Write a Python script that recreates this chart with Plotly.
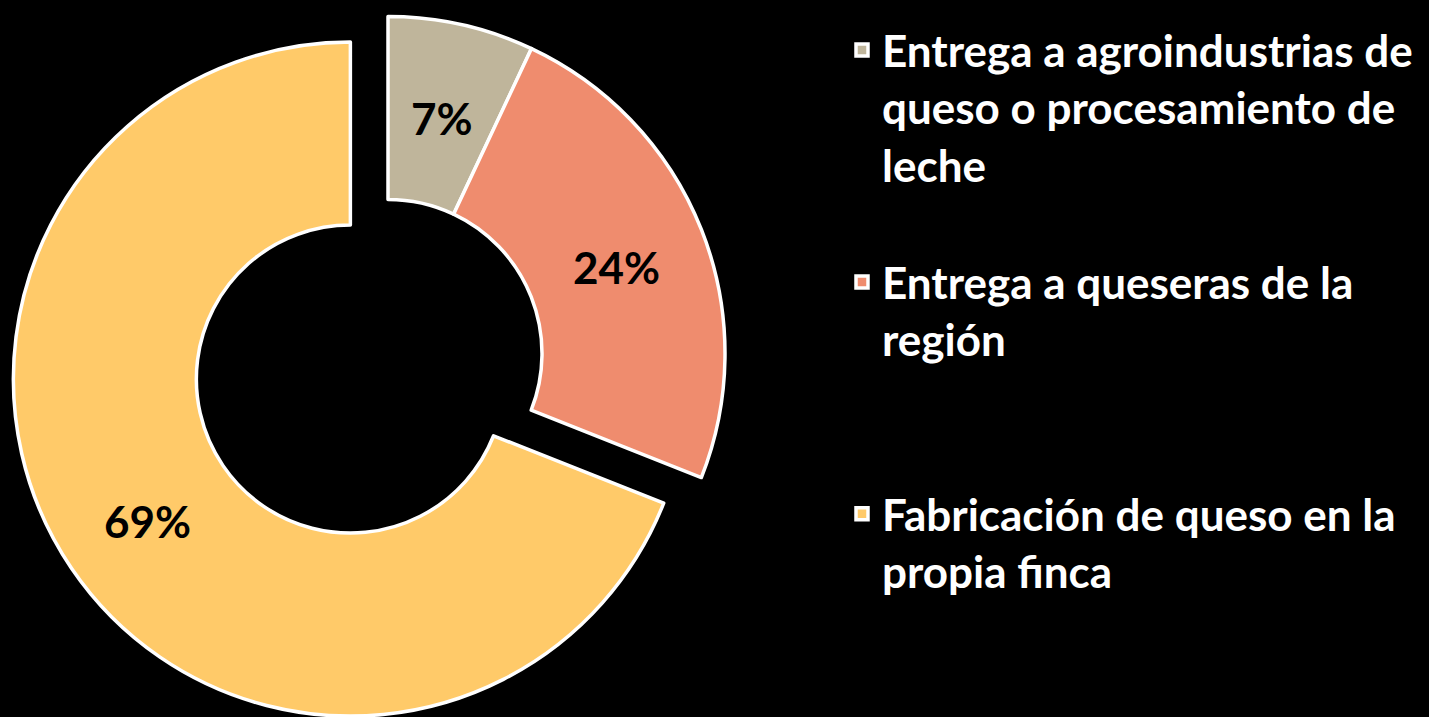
import math
import plotly.graph_objects as go

# ---- data ----
legend_labels = [
    "Entrega a agroindustrias de<br>queso o procesamiento de<br>leche<br> ",
    "Entrega a queseras de la<br>región<br> <br> ",
    "Fabricación de queso en la<br>propia finca",
]
values = [7, 24, 69]
colors = ["#BFB59B", "#EF8C6E", "#FFCA69"]
exploded = [False, False, True]

# ---- layout geometry (pixels) ----
W, H = 1429, 717
R = 337            # outer radius
HOLE = 0.457
CX, CY = 388, 353.5  # centre of the un-exploded ring
PULL = 0.135
LINE_W = 3.5
FONT = "Lato"


def domain(cx, cy, r):
    return dict(x=[(cx - r) / W, (cx + r) / W], y=[1 - (cy + r) / H, 1 - (cy - r) / H])


total = sum(values)


def mid_angle(i):
    start = sum(values[:i]) / total * 360
    return math.radians(start + values[i] / total * 180)


k = exploded.index(True)
mk = mid_angle(k)
dx = PULL * R * math.sin(mk)
dy = -PULL * R * math.cos(mk)

common = dict(
    labels=legend_labels,
    values=values,
    sort=False,
    direction="clockwise",
    rotation=0,
    hole=HOLE,
    textinfo="none",
    hoverinfo="skip",
)

fig = go.Figure()

# legend carrier (tiny, hidden beneath the exploded slice)
fig.add_trace(go.Pie(
    **common,
    marker=dict(colors=colors, line=dict(color="white", width=LINE_W)),
    domain=domain(150, 420, 0.5),
    showlegend=True,
))

# ring: non-exploded slices
fig.add_trace(go.Pie(
    **common,
    marker=dict(
        colors=[("rgba(0,0,0,0)" if e else c) for c, e in zip(colors, exploded)],
        line=dict(color="white", width=[0 if e else LINE_W for e in exploded]),
    ),
    domain=domain(CX, CY, R),
    showlegend=False,
))

# ring: exploded slice
fig.add_trace(go.Pie(
    **common,
    marker=dict(
        colors=[(c if e else "rgba(0,0,0,0)") for c, e in zip(colors, exploded)],
        line=dict(color="white", width=[LINE_W if e else 0 for e in exploded]),
    ),
    domain=domain(CX + dx, CY + dy, R),
    showlegend=False,
))

# percentage labels at the middle of each ring segment
r_mid = R * (1 + HOLE) / 2
for i, v in enumerate(values):
    a = mid_angle(i)
    ox, oy = (dx, dy) if exploded[i] else (0, 0)
    px = CX + ox + r_mid * math.sin(a)
    py = CY + oy - r_mid * math.cos(a)
    fig.add_annotation(
        x=px / W, y=1 - py / H, xref="paper", yref="paper",
        text=f"{round(v / total * 100)}%", showarrow=False,
        xanchor="center", yanchor="middle", yshift=-4,
        font=dict(family=FONT, size=44, color="black", weight="bold"),
    )

fig.update_layout(
    width=W,
    height=H,
    paper_bgcolor="black",
    plot_bgcolor="black",
    margin=dict(l=0, r=0, t=0, b=0, autoexpand=False),
    legend=dict(
        x=842 / W, xanchor="left",
        y=1 - 15 / H, yanchor="top",
        font=dict(family=FONT, size=44, color="white", weight="bold"),
        valign="top",
        bgcolor="rgba(0,0,0,0)",
        traceorder="normal",
    ),
)

fig.write_html(
    "out.html",
    config={"displayModeBar": False},
    post_script=(
        "document.body.style.margin='0';"
        "document.body.style.padding='0';"
        "document.body.style.background='black';"
        "document.body.style.overflow='hidden';"
        "document.documentElement.style.overflow='hidden';"
    ),
)
